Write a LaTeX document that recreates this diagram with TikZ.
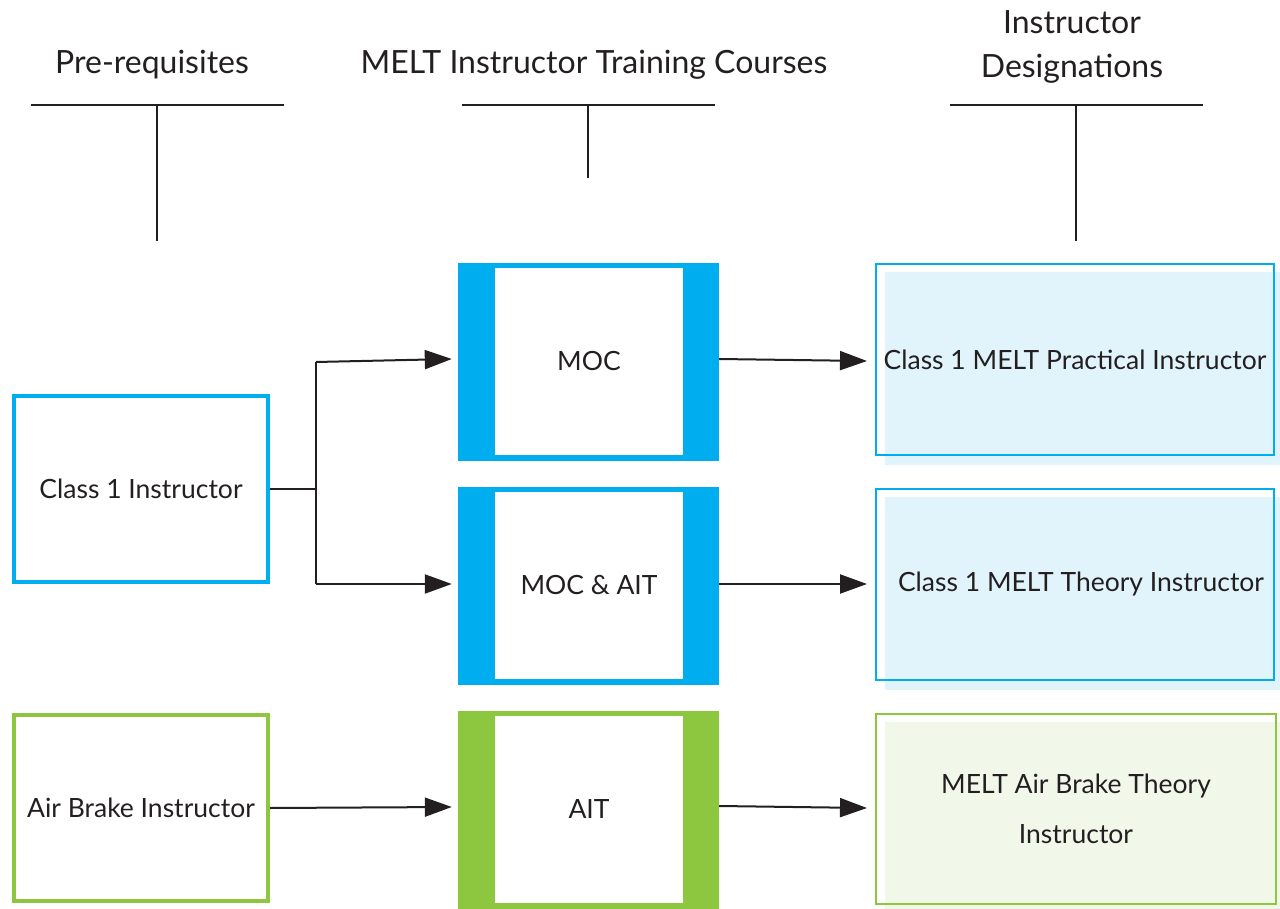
\documentclass[tikz,border=0pt]{standalone}
\usepackage{fontspec}
\setmainfont{Lato}
\usetikzlibrary{arrows.meta}
\definecolor{cblue}{HTML}{00AEEF}
\definecolor{cgreen}{HTML}{8DC63F}
\definecolor{lblue}{HTML}{E1F4FC}
\definecolor{lgreen}{HTML}{F1F7E9}
\definecolor{ink}{HTML}{231F20}
\tikzset{
  lbl/.style={font=\fontsize{26.5}{32}\selectfont, text=ink},
  prebox/.style={draw=#1, line width=4pt, minimum width=254pt, minimum height=186pt, inner sep=0pt, lbl},
  coursebox/.style={fill=#1, minimum width=261pt, minimum height=198pt, inner sep=0pt},
  courseinner/.style={fill=white, minimum width=188pt, minimum height=187pt, inner sep=0pt, lbl},
  desbox/.style={draw=#1, line width=2pt, minimum width=398pt, minimum height=191pt, inner sep=0pt, lbl, align=center},
  conn/.style={draw=ink, line width=2pt},
  arr/.style={conn, -{Triangle[length=27pt,width=19pt]}},
  hdr/.style={lbl, font=\fontsize{32}{44}\selectfont, align=center},
}
\begin{document}
\begin{tikzpicture}[x=1pt,y=-1pt]
\useasboundingbox (0,0) rectangle (1280,909);
% headers
\node[hdr] (h1) at (152,65) {Pre-requisites};
\node[hdr] (h2) at (594,65) {MELT Instructor Training Courses};
\node[hdr] (h3) at (1072,47) {Instructor\\Designations};
% T shapes
\draw[ink, line width=2.5pt] (31,105) -- (284,105);
\draw[ink, line width=2pt] (157,105) -- (157,241);
\draw[ink, line width=2.5pt] (462,105) -- (715,105);
\draw[ink, line width=2pt] (588,105) -- (588,178);
\draw[ink, line width=2.5pt] (950,105) -- (1203,105);
\draw[ink, line width=2pt] (1076,105) -- (1076,241);
% prerequisite boxes
\node[prebox=cblue] (c1) at (141,489) {Class 1 Instructor};
\node[prebox=cgreen] (ab) at (141,808) {Air Brake Instructor};
% course boxes
\node[coursebox=cblue] (moc) at (588.5,362) {};
\node[courseinner] (mocin) at (589,361.5) {MOC};
\node[coursebox=cblue] (mocait) at (588.5,585.5) {};
\node[courseinner] (mocaitin) at (589,585) {MOC \& AIT};
\node[coursebox=cgreen] (ait) at (588.5,809.5) {};
\node[courseinner] (aitin) at (589,809) {AIT};
% designation boxes
\fill[lblue] (885,272) rectangle (1280,465);
\node[desbox=cblue] (d1) at (1075,359.5) {Class 1 MELT Practical Instructor};
\fill[lblue] (885,497) rectangle (1280,690);
\node[desbox=cblue] (d2) at (1075,584.5) {\hspace*{12pt}Class 1 MELT Theory Instructor};
\fill[lgreen] (885,722) rectangle (1280,909);
\node[desbox=cgreen, minimum width=400pt, minimum height=190pt] (d3) at (1076,809) {MELT Air Brake Theory\\[18pt]Instructor};
% connectors
\coordinate (j) at (316,489);
\coordinate (jt) at (316,362);
\coordinate (jb) at (316,584);
\draw[conn] (c1.east) -- (j);
\draw[conn] (jt) -- (jb);
\draw[arr] (jt) -- ([xshift=-6pt]moc.west |- 0,359);
\draw[arr] (jb) -- ([xshift=-6pt]mocait.west |- 0,584);
\draw[arr] (ab.east) -- ([xshift=-6pt]ait.west |- 0,807);
\draw[arr] (moc.east |- 0,359) -- ([xshift=-8pt]d1.west |- 0,361);
\draw[arr] (mocait.east |- 0,584) -- ([xshift=-8pt]d2.west |- 0,584);
\draw[arr] (ait.east |- 0,806) -- ([xshift=-8pt]d3.west |- 0,808);
\end{tikzpicture}
\end{document}
